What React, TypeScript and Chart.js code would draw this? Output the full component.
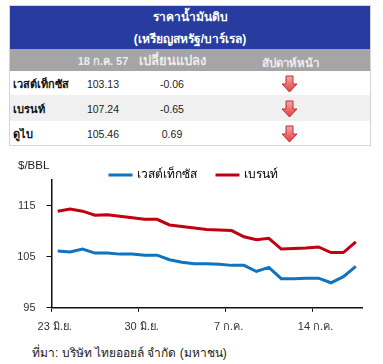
import React, { useEffect, useRef } from "react";
import { Chart, registerables } from "chart.js";

Chart.register(...registerables);

const FONT = '"Liberation Sans", Arial, sans-serif';

const tableTitle = ["ราคาน้ำมันดิบ", "(เหรียญสหรัฐ/บาร์เรล)"];
const tableHeaders = ["18 ก.ค. 57", "เปลี่ยนแปลง", "สัปดาห์หน้า"];
const rowNames = ["เวสต์เท็กซัส", "เบรนท์", "ดูไบ"];
const rowPrices = ["103.13", "107.24", "105.46"];
const rowChanges = ["-0.06", "-0.65", "0.69"];

const categories = [
  "23 มิ.ย.", "", "", "", "", "", "",
  "30 มิ.ย.", "", "", "", "", "", "",
  "7 ก.ค.", "", "", "", "", "", "",
  "14 ก.ค.", "", "", "",
];
const wti = [
  106.1, 105.9, 106.5, 105.7, 105.7, 105.5, 105.5, 105.3, 105.3, 104.4, 103.9, 103.6,
  103.6, 103.5, 103.3, 103.3, 102.1, 102.9, 100.7, 100.7, 100.8, 100.8, 99.9, 101.1, 103.1,
];
const brent = [
  113.9, 114.3, 113.9, 113.1, 113.2, 112.9, 112.6, 112.3, 112.3, 111.2, 110.9, 110.6,
  110.3, 110.2, 110.1, 108.9, 108.3, 108.6, 106.5, 106.6, 106.7, 106.9, 105.8, 105.8, 107.9,
];
const yTicks = [95, 105, 115];
const seriesNames = ["เวสต์เท็กซัส", "เบรนท์"];
const unitLabel = "$/BBL";
const sourceNote = "ที่มา: บริษัท ไทยออยล์ จำกัด (มหาชน)";

const abs = (left: number, top: number, width: number, height: number): React.CSSProperties => ({
  position: "absolute", left, top, width, height,
});

function cell(text: string, cx: number, cy: number, extra: React.CSSProperties) {
  return (
    <div key={text + cx + cy} style={{
      position: "absolute", left: cx - 100, top: cy - 12, width: 200, height: 24, lineHeight: "24px",
      textAlign: "center", whiteSpace: "nowrap", ...extra,
    }}>{text}</div>
  );
}

function Arrow({ cy }: { cy: number }) {
  return (
    <svg width={17} height={18} style={{ position: "absolute", left: 281, top: cy - 9 }} viewBox="0 0 17 18">
      <defs>
        <linearGradient id={"a" + cy} x1="0" y1="0" x2="0" y2="1">
          <stop offset="0" stopColor="#f8a8a8" />
          <stop offset="1" stopColor="#e03c3c" />
        </linearGradient>
      </defs>
      <path d="M5 1 H12 V9 H16 L8.5 17 L1 9 H5 Z" fill={`url(#a${cy})`} stroke="#b83030" strokeWidth="1" />
    </svg>
  );
}

const moveLegend = {
  id: "moveLegend",
  afterLayout(chart: any) {
    const l = chart.legend;
    l.top += 11; l.bottom += 11;
    l.left += 13; l.right += 13;
  },
};

export default function App() {
  const ref = useRef<HTMLCanvasElement>(null);
  useEffect(() => {
    const chart = new Chart(ref.current!, {
      type: "line",
      plugins: [moveLegend],
      data: {
        labels: categories,
        datasets: [
          { label: seriesNames[0], data: wti, borderColor: "#0f73bd", backgroundColor: "#0f73bd", borderWidth: 3, pointRadius: 0, tension: 0 },
          { label: seriesNames[1], data: brent, borderColor: "#c00010", backgroundColor: "#c00010", borderWidth: 3, pointRadius: 0, tension: 0 },
        ],
      },
      options: {
        responsive: false,
        animation: false,
        layout: { padding: { left: 0, right: 21, top: 0, bottom: 0 } },
        plugins: {
          tooltip: { enabled: false },
          legend: {
            display: true,
            position: "top",
            align: "center",
            labels: {
              boxWidth: 21,
              boxHeight: 0.01,
              padding: 20,
              color: "#222",
              font: { family: FONT, size: 12 },
              generateLabels: (c: any) =>
                c.data.datasets.map((d: any, i: number) => ({
                  text: d.label, fillStyle: d.borderColor, strokeStyle: d.borderColor, lineWidth: 3, datasetIndex: i,
                })),
            },
          },
        },
        scales: {
          x: {
            type: "category",
            offset: true,
            border: { color: "#111", width: 1.5 },
            grid: {
              display: true,
              offset: true,
              drawOnChartArea: false,
              drawTicks: true,
              tickLength: 4,
              tickColor: (ctx: any) => (ctx.index % 7 === 0 ? "#111" : "transparent"),
            },
            ticks: {
              autoSkip: false,
              maxRotation: 0,
              minRotation: 0,
              labelOffset: -3,
              padding: 9,
              color: "#333",
              font: { family: FONT, size: 11 },
            },
          },
          y: {
            min: 95,
            max: 120,
            afterBuildTicks: (s: any) => { s.ticks = yTicks.map((value) => ({ value })); },
            afterFit: (s: any) => { s.width = 51.5; },
            border: { color: "#111", width: 1.5 },
            grid: { display: true, drawOnChartArea: false, tickLength: 5, tickColor: "#111" },
            ticks: { padding: 11, color: "#333", font: { family: FONT, size: 11 } },
          },
        },
      },
    });
    return () => chart.destroy();
  }, []);

  return (
    <div style={{ position: "absolute", left: 0, top: 0, width: 383, height: 364, background: "#fff", fontFamily: FONT, overflow: "hidden" }}>
      <div style={{ ...abs(9, 5, 360, 139), border: "1px solid #d4d4d4" }} />
      <div style={{ ...abs(10, 6, 360, 43), background: "#283ca0" }} />
      <div style={{ ...abs(10, 49, 360, 22), background: "#a5a5a5" }} />
      <div style={{ ...abs(10, 95, 360, 26), background: "#f0f0f0" }} />
      {cell(tableTitle[0], 190, 17, { color: "#fff", fontSize: 12, fontWeight: "bold" })}
      {cell(tableTitle[1], 190, 39, { color: "#fff", fontSize: 12, fontWeight: "bold" })}
      {cell(tableHeaders[0], 103, 61, { color: "#ececec", fontSize: 11, fontWeight: "bold" })}
      {cell(tableHeaders[1], 172, 61, { color: "#ececec", fontSize: 13, fontWeight: "bold" })}
      {cell(tableHeaders[2], 290, 63, { color: "#ececec", fontSize: 11.5, fontWeight: "bold" })}
      {rowNames.map((n, i) => {
        const cy = [84, 109, 134][i];
        return (
          <React.Fragment key={n}>
            <div style={{ position: "absolute", left: 13, top: cy - 12, height: 24, lineHeight: "24px", fontSize: 11, fontWeight: "bold", color: "#111", whiteSpace: "nowrap" }}>{n}</div>
            {cell(rowPrices[i], 103, cy, { fontSize: 10.5, color: "#222" })}
            {cell(rowChanges[i], 172, cy, { fontSize: 10.5, color: "#222" })}
            <Arrow cy={cy} />
          </React.Fragment>
        );
      })}
      <canvas ref={ref} width={383} height={205} style={{ position: "absolute", left: 0, top: 138, width: 383, height: 205, display: "block" }} />
      <div style={{ position: "absolute", left: 18, top: 158, fontSize: 11.5, color: "#222", lineHeight: "14px" }}>{unitLabel}</div>
      <div style={{ position: "absolute", left: 32, top: 346, fontSize: 12, color: "#222", lineHeight: "14px", whiteSpace: "nowrap" }}>{sourceNote}</div>
    </div>
  );
}
